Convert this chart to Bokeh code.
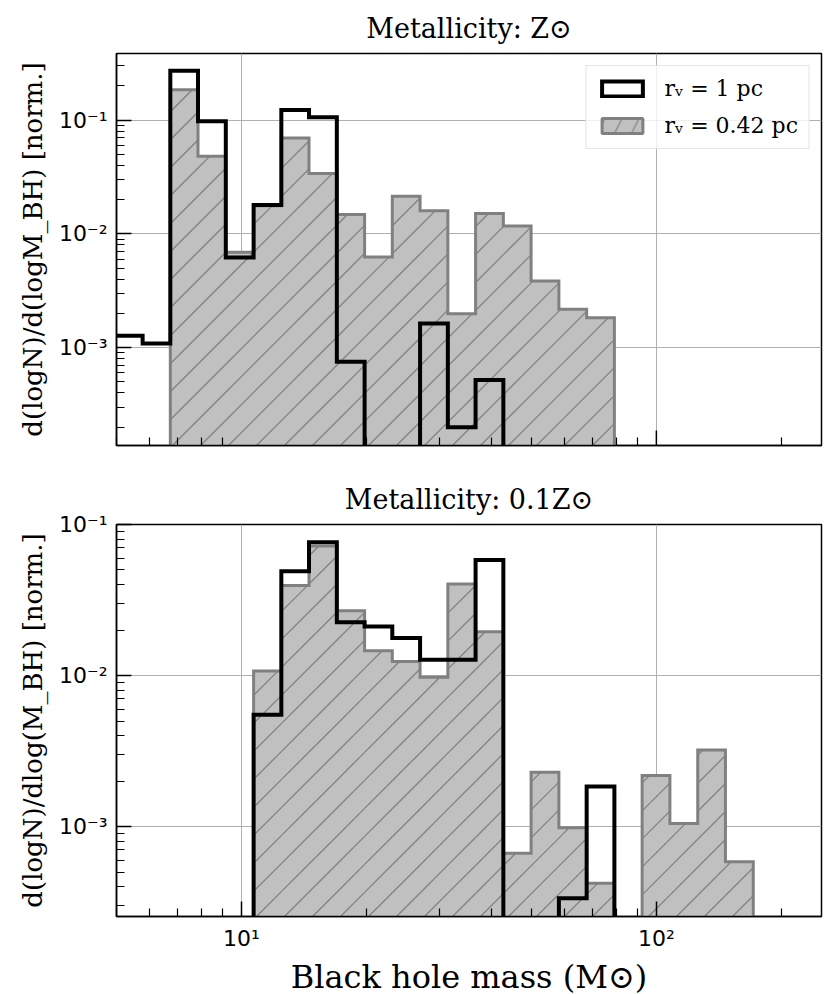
import math
from bokeh.plotting import figure
from bokeh.layouts import column
from bokeh.models import (Range1d, FixedTicker, CustomJSTickFormatter, Legend, LegendItem)
from bokeh.embed import file_html
from bokeh.resources import INLINE

# ---- data ----
bin_edges = [4.95, 5.78, 6.74, 7.86, 9.17, 10.70, 12.48, 14.55, 16.98, 19.81, 23.10,
             26.95, 31.44, 36.67, 42.78, 49.90, 58.22, 67.92, 79.22, 92.4, 107.8,
             125.8, 146.7, 171.2]

# Metallicity Z_sun
top_rv1 = [1.27e-3, 1.09e-3, 0.271, 0.0975, 6.2e-3, 0.0179, 0.123, 0.106, 7.5e-4,
           0, 0, 1.63e-3, 2.0e-4, 5.2e-4, 0, 0, 0, 0, 0, 0, 0, 0, 0]
top_rv042 = [0, 0, 0.185, 0.048, 6.9e-3, 0.0177, 0.0695, 0.034, 0.0148, 6.25e-3,
             0.0214, 0.016, 1.99e-3, 0.0151, 0.0117, 3.85e-3, 2.17e-3, 1.83e-3,
             0, 0, 0, 0, 0]

# Metallicity 0.1 Z_sun
bot_rv1 = [0, 0, 0, 0, 0, 5.5e-3, 0.049, 0.0764, 0.0225, 0.0211, 0.0177, 0.0127,
           0.0127, 0.0583, 0, 0, 3.35e-4, 1.84e-3, 0, 0, 0, 0, 0]
bot_rv042 = [0, 0, 0, 0, 0, 0.0107, 0.0394, 0.072, 0.0269, 0.0146, 0.0124, 9.75e-3,
             0.0403, 0.0195, 6.66e-4, 2.29e-3, 9.84e-4, 4.21e-4, 0, 2.18e-3,
             1.05e-3, 3.22e-3, 5.86e-4]

x_major = [10, 100]
y_major = [1e-3, 1e-2, 1e-1]
labels = ["rᵥ = 1 pc", "rᵥ = 0.42 pc"]
titles = ["Metallicity: Z⊙", "Metallicity: 0.1Z⊙"]
ylabels = ["d(logN)/d(logM_BH) [norm.]", "d(logN)/dlog(M_BH) [norm.]"]
xlabel = "Black hole mass (M⊙)"

X_RANGE = (5, 250)
FW, FH = 705, 392
FLOOR = 1e-9
MAJ_LEN = 15
HATCH_SPACING = 28   # horizontal px between 45-degree hatch lines


def step_poly(edges, vals):
    xs = [edges[0]]
    ys = [FLOOR]
    for i, v in enumerate(vals):
        v = v if v > 0 else FLOOR
        xs += [edges[i], edges[i + 1]]
        ys += [v, v]
    xs.append(edges[-1])
    ys.append(FLOOR)
    return xs, ys


def hatch_segments(edges, vals, yr):
    """45-degree (screen space) '/' hatch lines restricted to each filled bin."""
    lx0, lx1 = math.log10(X_RANGE[0]), math.log10(X_RANGE[1])
    ly0, ly1 = math.log10(yr[0]), math.log10(yr[1])
    sx = FW / (lx1 - lx0)
    sy = FH / (ly1 - ly0)
    xs_out, ys_out = [], []

    def to_data(X, Y):
        return 10 ** (X / sx + lx0), 10 ** (Y / sy + ly0)

    for i, v in enumerate(vals):
        if v <= 0:
            continue
        X0 = max((math.log10(edges[i]) - lx0) * sx, 0.0)
        X1 = min((math.log10(edges[i + 1]) - lx0) * sx, FW)
        Y0 = 0.0
        Y1 = min((math.log10(v) - ly0) * sy, FH)
        if X1 <= X0 or Y1 <= Y0:
            continue
        kmin = math.floor((X0 - Y1) / HATCH_SPACING)
        kmax = math.ceil((X1 - Y0) / HATCH_SPACING)
        for k in range(kmin, kmax + 1):
            c = k * HATCH_SPACING
            xa = max(X0, Y0 + c)
            xb = min(X1, Y1 + c)
            if xb - xa > 0.5:
                pa = to_data(xa, xa - c)
                pb = to_data(xb, xb - c)
                xs_out.append([pa[0], pb[0]])
                ys_out.append([pa[1], pb[1]])
    return xs_out, ys_out


fmt = CustomJSTickFormatter(code="""
const sup = {"-":"\u207b","0":"\u2070","1":"\u00b9","2":"\u00b2","3":"\u00b3","4":"\u2074",
             "5":"\u2075","6":"\u2076","7":"\u2077","8":"\u2078","9":"\u2079"};
const e = Math.round(Math.log10(tick));
return "10" + String(e).split("").map(c => sup[c]).join("");
""")

x_minor = [m * 10 ** e for e in range(0, 3) for m in range(2, 10)]
y_minor = [m * 10 ** e for e in range(-5, 0) for m in range(2, 10)]


def make_fig(yr, title, ylabel, show_x, mb_top, mb_bottom):
    p = figure(x_axis_type="log", y_axis_type="log",
               x_range=Range1d(*X_RANGE), y_range=Range1d(*yr),
               frame_width=FW, frame_height=FH,
               min_border_left=116, min_border_right=5,
               min_border_top=mb_top, min_border_bottom=mb_bottom,
               output_backend="svg", toolbar_location=None, title=title)
    p.title.align = "center"
    p.title.text_font = "DejaVu Serif"
    p.title.text_font_size = "27px"
    p.title.text_font_style = "normal"
    p.title.text_color = "black"
    p.title.standoff = 20

    if show_x:
        p.xaxis.ticker = FixedTicker(ticks=x_major, minor_ticks=x_minor)
    else:
        p.xaxis.ticker = FixedTicker(ticks=[], minor_ticks=x_minor)
        p.xgrid.ticker = FixedTicker(ticks=x_major)
        # long inward major ticks at the bottom edge (no labels on the top panel)
        p.scatter(x_major, [yr[0]] * len(x_major), marker="dash", angle=math.pi / 2,
                  size=2 * MAJ_LEN, line_color="black", line_width=1.5)
    p.yaxis.ticker = FixedTicker(ticks=y_major, minor_ticks=y_minor)
    for ax in (p.xaxis, p.yaxis):
        ax.formatter = fmt
        ax.major_tick_in = MAJ_LEN
        ax.major_tick_out = 0
        ax.minor_tick_in = 8
        ax.minor_tick_out = 0
        ax.major_tick_line_width = 1.5
        ax.minor_tick_line_width = 1.2
        ax.major_tick_line_color = "black"
        ax.minor_tick_line_color = "black"
        ax.axis_line_color = "black"
        ax.axis_line_width = 1.5
        ax.major_label_text_font = "DejaVu Sans"
        ax.major_label_text_font_size = "22px"
        ax.major_label_text_color = "black"
        ax.major_label_standoff = 9
        ax.axis_label_text_font = "DejaVu Serif"
        ax.axis_label_text_font_style = "normal"
        ax.axis_label_text_color = "black"
    p.yaxis.axis_label = ylabel
    p.yaxis.axis_label_text_font_size = "26px"
    p.yaxis.axis_label_standoff = 8
    if show_x:
        p.xaxis.axis_label = xlabel
        p.xaxis.axis_label_text_font_size = "32px"
        p.xaxis.axis_label_standoff = 4

    p.xgrid.grid_line_color = "#b0b0b0"
    p.ygrid.grid_line_color = "#b0b0b0"
    p.xgrid.grid_line_width = 1
    p.ygrid.grid_line_width = 1
    p.outline_line_color = "black"
    p.outline_line_width = 1.5
    p.outline_line_alpha = 1
    return p


def add_hists(p, rv1, rv042, yr):
    gx, gy = step_poly(bin_edges, rv042)
    p.patch(gx, gy, fill_color="#c0c0c0", line_color=None)
    hx, hy = hatch_segments(bin_edges, rv042, yr)
    p.multi_line(hx, hy, line_color="#808080", line_width=1.3)
    p.patch(gx, gy, fill_alpha=0, line_color="#808080", line_width=3, line_join="miter")
    # hidden copy, used only for the hatched legend swatch
    g_leg = p.patch(gx, gy, fill_color="#c0c0c0", line_color="#808080", line_width=3,
                    hatch_pattern="/", hatch_color="#808080", hatch_weight=1.2,
                    hatch_scale=34, visible=False)
    bx, by = step_poly(bin_edges, rv1)
    b = p.patch(bx, by, fill_alpha=0, line_color="black", line_width=4,
                line_join="miter")
    return b, g_leg


yr1 = (1.38e-4, 0.385)
p1 = make_fig(yr1, titles[0], ylabels[0], False, 52, 20)
b1, g1 = add_hists(p1, top_rv1, top_rv042, yr1)
leg = Legend(items=[LegendItem(label=labels[0], renderers=[b1]),
                    LegendItem(label=labels[1], renderers=[g1])],
             location="top_right", click_policy="none")
leg.label_text_font = "DejaVu Serif"
leg.label_text_font_size = "22px"
leg.label_text_color = "black"
leg.glyph_width = 51
leg.glyph_height = 19
leg.spacing = 12
leg.padding = 10
leg.margin = 12
leg.label_standoff = 17
leg.border_line_color = "#cccccc"
leg.border_line_width = 1.5
leg.background_fill_alpha = 0.8
p1.add_layout(leg)

yr2 = (2.54e-4, 0.1)
p2 = make_fig(yr2, titles[1], ylabels[1], True, 59, 70)
add_hists(p2, bot_rv1, bot_rv042, yr2)

layout = column(p1, p2, spacing=0)
open("out.html", "w").write(file_html(layout, INLINE))
